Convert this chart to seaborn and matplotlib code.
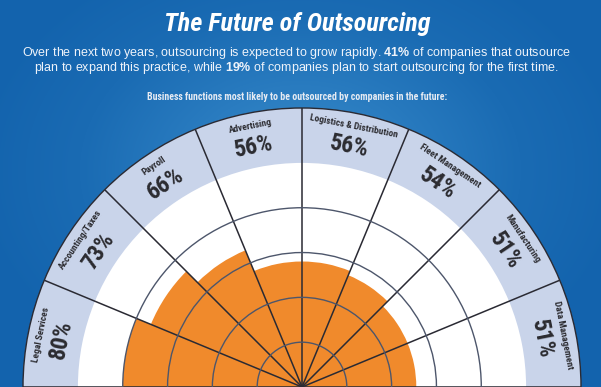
import numpy as np
import matplotlib
matplotlib.use("Agg")
import matplotlib.pyplot as plt
import seaborn as sns
from matplotlib.colors import LinearSegmentedColormap

# ---- data ----
categories = ["Legal Services", "Accounting/Taxes", "Payroll", "Advertising",
              "Logistics & Distribution", "Fleet Management", "Manufacturing",
              "Data Management"]
values = [80, 73, 66, 56, 56, 54, 51, 51]
value_labels = ["80%", "73%", "66%", "56%", "56%", "54%", "51%", "51%"]
grid_levels = [20, 40, 60, 80]

title = "The Future of Outsourcing"
subtitle_1 = r"Over the next two years, outsourcing is expected to grow rapidly. $\mathbf{41\%}$ of companies that outsource"
subtitle_2 = r"plan to expand this practice, while $\mathbf{19\%}$ of companies plan to start outsourcing for the first time."
chart_caption = "Business functions most likely to be outsourced by companies in the future:"

# ---- style ----
sns.set_style("white")
plt.rcParams["font.family"] = ["Liberation Sans", "DejaVu Sans"]
plt.rcParams["mathtext.fontset"] = "custom"
plt.rcParams["mathtext.rm"] = "Liberation Sans"
plt.rcParams["mathtext.bf"] = "Liberation Sans:bold"
NARROW = ["Roboto Condensed", "Liberation Sans Narrow", "Roboto", "DejaVu Sans"]

ORANGE = "#f08a2c"
RING = "#c9d4ea"
GRID = "#4d566b"
DARK = "#2a2a33"

W, H = 601, 387
fig = plt.figure(figsize=(W / 100, H / 100), dpi=100)

# background radial gradient
bg = fig.add_axes([0, 0, 1, 1], zorder=-5)
yy, xx = np.mgrid[0:H, 0:W]
d = np.sqrt(((xx - 300) / 330.0) ** 2 + ((yy - 170) / 240.0) ** 2)
d = np.clip(d, 0, 1)
cmap = LinearSegmentedColormap.from_list("bg", ["#3a8fcb", "#2a7cc0", "#1a6bb3", "#1363ad"])
bg.imshow(d, cmap=cmap, vmin=0, vmax=1, aspect="auto", extent=[0, W, H, 0])
bg.set_axis_off()

# polar half-disc
R_PX = 279.0
CX, CY = 302.0, 0.0
ax = fig.add_axes([0.05, 0.0, 0.9, 0.9], projection="polar")
ax.set_thetamin(0)
ax.set_thetamax(180)
rmax = 124.5
ax.set_ylim(0, rmax)

n = len(categories)
step = np.pi / n
theta = np.pi - step / 2 - np.arange(n) * step

ax.set_facecolor("white")
ax.bar(theta, [rmax - 100] * n, bottom=100, width=step, color=RING, linewidth=0, zorder=1)
ax.bar(theta, values, width=step, color=ORANGE, linewidth=0, zorder=2)

ax.set_yticks(grid_levels)
ax.set_xticks(np.arange(n + 1) * step)
ax.set_xticklabels([])
ax.set_yticklabels([])
ax.grid(True, color=GRID, linewidth=1.0)
ax.xaxis.grid(True, color=DARK, linewidth=1.1)
ax.set_axisbelow(False)
for g in ax.get_xgridlines() + ax.get_ygridlines():
    g.set_zorder(3)
ax.spines["polar"].set_color(DARK)
ax.spines["polar"].set_linewidth(1.0)
for s in ("start", "end", "inner"):
    ax.spines[s].set_visible(False)
ax.tick_params(length=0, pad=0)

for t, name, lab in zip(theta, categories, value_labels):
    rot = np.degrees(t) - 90
    ax.text(t, 118.7, name, rotation=rot, rotation_mode="anchor", ha="center", va="center",
            fontsize=6.8, fontweight="bold", family=NARROW, color="#2b2b30", zorder=5)
    ax.text(t, 109.3, lab, rotation=rot, rotation_mode="anchor", ha="center", va="center",
            fontsize=17, fontweight="bold", family=NARROW, color="#2b2b30", zorder=5)

# position the half disc so that its centre/radius match the target in pixels
for _ in range(3):
    fig.canvas.draw()
    c = ax.transData.transform((np.pi / 2, 0))
    top = ax.transData.transform((np.pi / 2, rmax))
    r = top[1] - c[1]
    pos = ax.get_position(original=True)
    s = R_PX / r
    ax.set_position([pos.x0, pos.y0, pos.width * s, pos.height * s], which="both")
    fig.canvas.draw()
    c = ax.transData.transform((np.pi / 2, 0))
    pos = ax.get_position(original=True)
    dx = (CX - c[0]) / W
    dy = (CY - c[1]) / H
    ax.set_position([pos.x0 + dx, pos.y0 + dy, pos.width, pos.height], which="both")

# header texts
fig.text(297 / W, 1 - 24 / H, title, ha="center", va="center", color="white",
         fontsize=18.8, fontweight="bold", fontstyle="italic", family=NARROW)
fig.text(296 / W, 1 - 53 / H, subtitle_1, ha="center", va="center", color="#eef3fa", fontsize=9)
fig.text(296 / W, 1 - 68 / H, subtitle_2, ha="center", va="center", color="#eef3fa", fontsize=9)
fig.text(297 / W, 1 - 97 / H, chart_caption, ha="center", va="center", color="#e6ebf3",
         fontsize=7.1, fontweight="bold", family=NARROW)

fig.savefig("out.png", dpi=100)
